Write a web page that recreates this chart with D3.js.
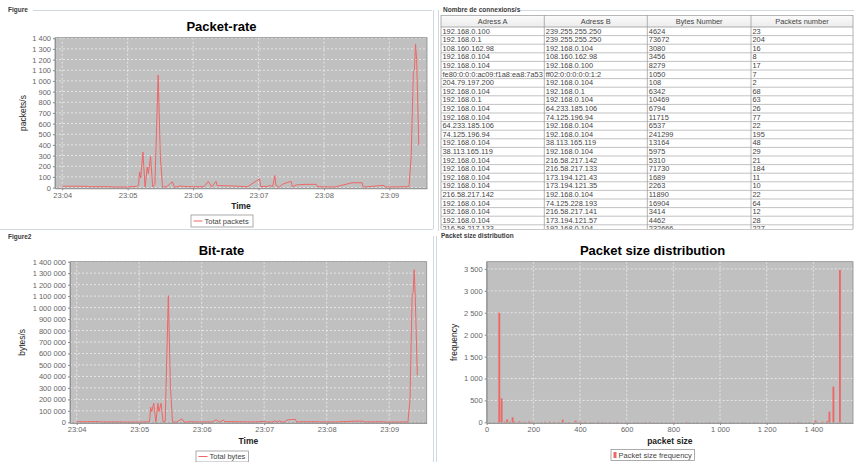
<!DOCTYPE html>
<html><head><meta charset="utf-8">
<script src="https://cdn.jsdelivr.net/npm/d3@7"></script>
<style>body{margin:0;background:#fff;} svg{display:block;font-family:"Liberation Sans",Arial,sans-serif;}</style>
</head><body><svg id="c" width="854" height="462"></svg>
<script>
// ---------------- DATA ----------------
const times = ["23:04:00","23:04:10","23:04:22","23:04:24","23:04:44","23:04:46","23:05:00","23:05:02","23:05:08","23:05:10",
 "23:05:11","23:05:12","23:05:14","23:05:16","23:05:18","23:05:19","23:05:21","23:05:23","23:05:25","23:05:28",
 "23:05:30","23:05:32","23:05:36","23:05:41","23:05:43","23:05:48","23:05:55","23:06:10","23:06:14","23:06:17",
 "23:06:21","23:06:22","23:06:35","23:06:50","23:07:01","23:07:02","23:07:08","23:07:10","23:07:13","23:07:15",
 "23:07:16","23:07:19","23:07:22","23:07:27","23:07:30","23:07:31","23:07:35","23:07:44","23:07:53","23:07:54",
 "23:08:10","23:08:26","23:08:35","23:08:36","23:08:55","23:08:56","23:09:18","23:09:20","23:09:22","23:09:23",
 "23:09:24","23:09:25","23:09:27"];
const packetRate = [12,12,12,8,8,5,5,8,10,20,
 147,90,334,5,193,130,294,5,30,1055,
 290,5,8,55,2,15,8,8,58,5,
 58,18,15,8,82,10,10,20,8,112,
 20,3,30,50,57,8,25,30,30,8,
 5,45,45,5,20,5,8,290,1090,1100,
 1343,1200,395];
const byteRate = [5000,5000,6000,3000,3000,2000,2000,3000,4000,8000,
 131000,93000,166000,2000,166000,93000,166000,2000,10000,1104000,
 310000,2000,3000,30000,1000,5000,3000,3000,22000,2000,
 20000,6000,5000,3000,8000,3000,3000,12000,3000,15000,
 5000,1000,20000,25000,25000,3000,5000,5000,5000,3000,
 3000,10000,10000,3000,5000,2000,3000,200000,1120000,1130000,
 1330000,1100000,410000];
const sizeBins = [54,64,76,88,100,111,120,140,160,180,190,200,230,250,270,290,310,326,350,381,
 400,420,450,480,500,530,560,600,640,680,700,750,800,860,900,950,1000,1050,1100,1150,
 1200,1250,1300,1340,1380,1410,1440,1460,1469,1486,1514];
const sizeFreq = [2500,548,20,68,15,114,20,25,15,20,12,10,8,12,15,10,10,60,10,38,
 15,10,8,12,10,8,10,8,6,8,10,6,8,12,6,8,10,6,8,6,
 8,6,8,12,6,38,15,30,243,814,3480];
const packetTicks = [0,100,200,300,400,500,600,700,800,900,1000,1100,1200,1300,1400];
const byteTicks = [0,100000,200000,300000,400000,500000,600000,700000,800000,900000,1000000,1100000,1200000,1300000,1400000];
const freqTicks = [0,500,1000,1500,2000,2500,3000,3500];
const sizeTicks = [0,200,400,600,800,1000,1200,1400];
const minuteTicks = ["23:04","23:05","23:06","23:07","23:08","23:09"];

const tableHeaders = ["Adress A","Adress B","Bytes Number","Packets number"];
const addrA = ["192.168.0.100","192.168.0.1","108.160.162.98","192.168.0.104","192.168.0.104","fe80:0:0:0:ac09:f1a8:ea8:7a53",
 "204.79.197.200","192.168.0.104","192.168.0.1","192.168.0.104","192.168.0.104","64.233.185.106","74.125.196.94",
 "192.168.0.104","38.113.165.119","192.168.0.104","192.168.0.104","192.168.0.104","192.168.0.104","216.58.217.142",
 "192.168.0.104","192.168.0.104","192.168.0.104","216.58.217.133"];
const addrB = ["239.255.255.250","239.255.255.250","192.168.0.104","108.160.162.98","192.168.0.100","ff02:0:0:0:0:0:1:2",
 "192.168.0.104","192.168.0.1","192.168.0.104","64.233.185.106","74.125.196.94","192.168.0.104","192.168.0.104",
 "38.113.165.119","192.168.0.104","216.58.217.142","216.58.217.133","173.194.121.43","173.194.121.35","192.168.0.104",
 "74.125.228.193","216.58.217.141","173.194.121.57","192.168.0.104"];
const bytesNumber = [4624,73672,3080,3456,8279,1050,108,6342,10469,6794,11715,6537,241299,13164,5975,5310,71730,1689,2263,11890,16904,3414,4462,232666];
const packetsNumber = [23,204,16,8,17,7,2,68,63,26,77,22,195,48,29,21,184,11,10,22,64,12,28,227];

// ---------------- HELPERS ----------------
const svg = d3.select("#c");
const loc = d3.formatLocale({decimal:",", thousands:" ", grouping:[3], currency:["","€"]});
const fmt = loc.format(",d");
const parseT = d3.timeParse("%H:%M:%S");
const parseM = d3.timeParse("%H:%M");
const tDates = times.map(parseT);
const tickDates = minuteTicks.map(parseM);
const fmtM = d3.timeFormat("%H:%M");
const RED = "#ee6666";
const BORDER = "#cfd9df";

function plotFrame(g, P, x, y, xTicks, yTicks, xFmt, drawData, xLabel, yLabel, yLabelX) {
  g.append("rect").attr("x",P.l).attr("y",P.t).attr("width",P.r-P.l).attr("height",P.b-P.t).attr("fill","#c0c0c0");
  const grid = g.append("g").attr("stroke","#fff").attr("stroke-width",0.6).attr("stroke-dasharray","2,2");
  xTicks.forEach(v=>grid.append("line").attr("x1",x(v)).attr("x2",x(v)).attr("y1",P.t).attr("y2",P.b));
  yTicks.forEach(v=>grid.append("line").attr("x1",P.l).attr("x2",P.r).attr("y1",y(v)).attr("y2",y(v)));
  const clipId = "clip"+Math.round(P.l)+"_"+Math.round(P.t);
  g.append("clipPath").attr("id",clipId).append("rect").attr("x",P.l).attr("y",P.t).attr("width",P.r-P.l).attr("height",P.b-P.t);
  drawData(g.append("g").attr("clip-path","url(#"+clipId+")"));
  g.append("rect").attr("x",P.l).attr("y",P.t).attr("width",P.r-P.l).attr("height",P.b-P.t)
    .attr("fill","none").attr("stroke","#8a8a8a").attr("stroke-width",0.8);
  const ax = g.append("g").attr("transform",`translate(0,${P.b})`)
    .call(d3.axisBottom(x).tickValues(xTicks).tickFormat(xFmt).tickSize(2).tickSizeOuter(0).tickPadding(2));
  const ay = g.append("g").attr("transform",`translate(${P.l},0)`)
    .call(d3.axisLeft(y).tickValues(yTicks).tickFormat(fmt).tickSize(2).tickSizeOuter(0).tickPadding(2));
  [ax,ay].forEach(a=>{
    a.select(".domain").attr("stroke","#8a8a8a").attr("stroke-width",0.8);
    a.selectAll(".tick line").attr("stroke","#8a8a8a");
    a.selectAll("text").attr("fill","#666").style("font-size","7.5px").style("font-family","Liberation Sans, Arial, sans-serif");
  });
  ay.selectAll("text").attr("dy","0.33em");
  g.append("text").attr("x",(P.l+P.r)/2).attr("y",P.b+21).attr("text-anchor","middle")
    .style("font-size","8.5px").style("font-weight","bold").attr("fill","#222").text(xLabel);
  g.append("text").attr("transform",`translate(${yLabelX},${(P.t+P.b)/2}) rotate(-90)`).attr("text-anchor","middle")
    .style("font-size","8.5px").attr("fill","#222").text(yLabel);
}

function legend(g, x0, y0, w, h, kind, label) {
  g.append("rect").attr("x",x0).attr("y",y0).attr("width",w).attr("height",h).attr("fill","#fff").attr("stroke","#888").attr("stroke-width",0.7);
  if (kind==="line") {
    g.append("line").attr("x1",x0+2.5).attr("x2",x0+11.5).attr("y1",y0+h/2).attr("y2",y0+h/2).attr("stroke",RED).attr("stroke-width",1);
    g.append("text").attr("x",x0+13.5).attr("y",y0+h/2+2.7).style("font-size","7.5px").attr("fill","#444").text(label);
  } else {
    g.append("rect").attr("x",x0+2.5).attr("y",y0+h/2-3).attr("width",3).attr("height",6).attr("fill",RED);
    g.append("text").attr("x",x0+7.5).attr("y",y0+h/2+2.7).style("font-size","7.5px").attr("fill","#444").text(label);
  }
}

function title(g, cx, y, txt) {
  g.append("text").attr("x",cx).attr("y",y).attr("text-anchor","middle").style("font-size","13px").style("font-weight","bold").attr("fill","#000").text(txt);
}

// ---------------- PANEL BORDERS ----------------
const fr = svg.append("g");
fr.append("line").attr("x1",33).attr("x2",432).attr("y1",10.5).attr("y2",10.5).attr("stroke",BORDER);
fr.append("line").attr("x1",433.5).attr("x2",433.5).attr("y1",10).attr("y2",229).attr("stroke",BORDER);
fr.append("line").attr("x1",0).attr("x2",433).attr("y1",229.5).attr("y2",229.5).attr("stroke",BORDER);
fr.append("line").attr("x1",518).attr("x2",854).attr("y1",10.5).attr("y2",10.5).attr("stroke",BORDER);
fr.append("line").attr("x1",438.5).attr("x2",438.5).attr("y1",10).attr("y2",231).attr("stroke",BORDER);
fr.append("line").attr("x1",433.5).attr("x2",433.5).attr("y1",236).attr("y2",462).attr("stroke",BORDER);
fr.append("line").attr("x1",436.5).attr("x2",436.5).attr("y1",236).attr("y2",462).attr("stroke",BORDER);
const small = (x,y,t)=>fr.append("text").attr("x",x).attr("y",y).style("font-size","6.5px").style("font-weight","bold").attr("fill","#3a3a3a").text(t);
small(8,12,"Figure");
small(443,12,"Nombre de connexions/s");
small(8,239,"Figure2");
small(441,238,"Packet size distribution");

// ---------------- PACKET-RATE ----------------
{
  const g = svg.append("g");
  const P = {l:55, t:37.7, r:427, b:188.3};
  const t0 = tDates[0];
  const x = d3.scaleTime().domain([new Date(+t0-6600), new Date(+t0+334500)]).range([P.l,P.r]);
  const y = d3.scaleLinear().domain([-7,1405]).range([P.b,P.t]);
  title(g,221.5,30.5,"Packet-rate");
  plotFrame(g,P,x,y,tickDates,packetTicks,fmtM,(d)=>{
    d.append("path").datum(tDates.map((t,i)=>[t,packetRate[i]]))
      .attr("d",d3.line().x(p=>x(p[0])).y(p=>y(p[1]))).attr("fill","none").attr("stroke",RED).attr("stroke-width",1);
  },"Time","packets/s",26);
  legend(g,191,215,62,12,"line","Totat packets");
}

// ---------------- BIT-RATE ----------------
{
  const g = svg.append("g");
  const P = {l:70, t:261.7, r:426.7, b:423};
  const t0 = tDates[0];
  const x = d3.scaleTime().domain([new Date(+t0-6400), new Date(+t0+336000)]).range([P.l,P.r]);
  const y = d3.scaleLinear().domain([-6000,1400000]).range([P.b,P.t]);
  title(g,221.5,254.5,"Bit-rate");
  plotFrame(g,P,x,y,tickDates,byteTicks,fmtM,(d)=>{
    d.append("path").datum(tDates.map((t,i)=>[t,byteRate[i]]))
      .attr("d",d3.line().x(p=>x(p[0])).y(p=>y(p[1]))).attr("fill","none").attr("stroke",RED).attr("stroke-width",1);
  },"Time","bytes/s",24.5);
  legend(g,196,451,52.5,11,"line","Total bytes");
}

// ---------------- PACKET SIZE DISTRIBUTION ----------------
{
  const g = svg.append("g");
  const P = {l:486.7, t:261.7, r:853, b:423};
  const x = d3.scaleLinear().domain([0,1570]).range([P.l,P.r]);
  const y = d3.scaleLinear().domain([-15,3665]).range([P.b,P.t]);
  const binW = 8;
  title(g,652.5,254.5,"Packet size distribution");
  plotFrame(g,P,x,y,sizeTicks,freqTicks,fmt,(d)=>{
    d.selectAll("rect.bar").data(sizeBins).join("rect").attr("class","bar")
      .attr("x",(s)=>x(s-binW/2)).attr("width",(s)=>Math.max(1,x(s+binW/2)-x(s-binW/2)))
      .attr("y",(s,i)=>y(sizeFreq[i])).attr("height",(s,i)=>y(0)-y(sizeFreq[i])).attr("fill",RED);
  },"packet size","frequency",456.5);
  legend(g,611,449.5,83.5,11,"bar","Packet size frequency");
}

// ---------------- TABLE ----------------
{
  const g = svg.append("g");
  const colX = [441,544.3,647.3,751,853];
  const top = 15, headH = 12, rowH = 8.6, bottom = 229;
  g.append("clipPath").attr("id","tclip").append("rect").attr("x",440).attr("y",top).attr("width",414).attr("height",bottom-top);
  const t = g.append("g").attr("clip-path","url(#tclip)");
  t.append("rect").attr("x",colX[0]).attr("y",top).attr("width",colX[4]-colX[0]).attr("height",bottom-top).attr("fill","#fff");
  const hg = t.append("linearGradient").attr("id","hgr").attr("x1",0).attr("y1",0).attr("x2",0).attr("y2",1);
  hg.append("stop").attr("offset",0).attr("stop-color","#fbfbfb");
  hg.append("stop").attr("offset",1).attr("stop-color","#ececec");
  t.append("rect").attr("x",colX[0]).attr("y",top).attr("width",colX[4]-colX[0]).attr("height",headH).attr("fill","url(#hgr)");
  tableHeaders.forEach((h,i)=>{
    t.append("text").attr("x",(colX[i]+colX[i+1])/2).attr("y",top+headH/2+2.6).attr("text-anchor","middle")
      .style("font-size","7.4px").attr("fill","#444").text(h);
  });
  const cols = [addrA,addrB,bytesNumber,packetsNumber];
  for (let r=0;r<addrA.length;r++){
    const yb = top+headH+r*rowH;
    cols.forEach((c,i)=>{
      t.append("text").attr("x",colX[i]+1.5).attr("y",yb+6.6).style("font-size","7.4px").attr("fill","#444").text(c[r]);
    });
    t.append("line").attr("x1",colX[0]).attr("x2",colX[4]).attr("y1",yb+rowH).attr("y2",yb+rowH).attr("stroke","#a8a8a8").attr("stroke-width",0.7);
  }
  t.append("line").attr("x1",colX[0]).attr("x2",colX[4]).attr("y1",top+headH).attr("y2",top+headH).attr("stroke","#999").attr("stroke-width",0.8);
  t.append("line").attr("x1",colX[0]).attr("x2",colX[4]).attr("y1",top+0.4).attr("y2",top+0.4).attr("stroke","#999").attr("stroke-width",0.8);
  colX.forEach(cx=>t.append("line").attr("x1",cx).attr("x2",cx).attr("y1",top).attr("y2",bottom).attr("stroke","#a0a0a0").attr("stroke-width",0.8));
  g.append("line").attr("x1",colX[0]).attr("x2",colX[4]).attr("y1",bottom+0.5).attr("y2",bottom+0.5).attr("stroke","#bbb").attr("stroke-width",0.8);
}
</script></body></html>
